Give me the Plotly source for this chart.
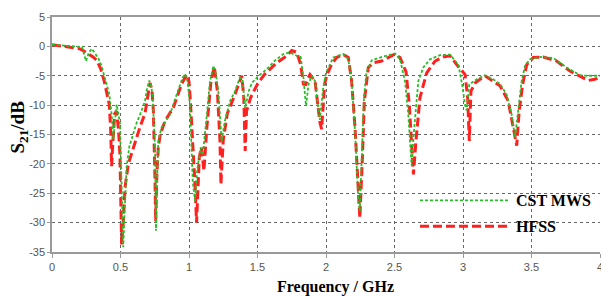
import plotly.graph_objects as go

# ---- data ----
cst_freq = [
    0, 0.1, 0.2, 0.22, 0.248, 0.27, 0.29, 0.315, 0.338, 0.36,
    0.387, 0.418, 0.435, 0.448, 0.46, 0.472, 0.496, 0.51, 0.52, 0.53,
    0.545, 0.565, 0.589, 0.618, 0.65, 0.679, 0.69, 0.71, 0.725, 0.735,
    0.752, 0.759, 0.768, 0.776, 0.8, 0.83, 0.861, 0.91, 0.954, 0.971,
    0.99, 1.007, 1.027, 1.044, 1.06, 1.085, 1.1, 1.129, 1.153, 1.178,
    1.195, 1.214, 1.238, 1.262, 1.3, 1.336, 1.372, 1.39, 1.41, 1.436,
    1.46, 1.508, 1.567, 1.628, 1.689, 1.737, 1.786, 1.815, 1.835, 1.854,
    1.873, 1.895, 1.92, 1.937, 1.955, 1.98, 2.0, 2.053, 2.126, 2.163,
    2.187, 2.212, 2.236, 2.247, 2.26, 2.277, 2.296, 2.333, 2.394, 2.467,
    2.504, 2.54, 2.577, 2.6, 2.613, 2.625, 2.64, 2.66, 2.674, 2.71,
    2.759, 2.832, 2.905, 2.966, 2.993, 3.015, 3.027, 3.046, 3.063, 3.1,
    3.16, 3.22, 3.27, 3.318, 3.355, 3.38, 3.404, 3.428, 3.453, 3.489,
    3.562, 3.66, 3.757, 3.854, 3.9, 3.95, 4.0,
]
cst_s21 = [
    0.3, 0.1, 0.0, -0.1, -2.5, -1.0, -0.4, -1.2, -2.0, -3.2,
    -5.3, -8.1, -11.5, -15.8, -12.5, -9.9, -13, -25, -34.2, -28,
    -20.5, -17, -15, -13, -11.2, -9.3, -7.6, -5.8, -6.8, -8.7,
    -17.2, -31.4, -22, -16.1, -13.8, -12.8, -11.6, -8.2, -5.3, -4.7,
    -6, -9.9, -22.9, -26.3, -21, -17.2, -18.5, -12, -6, -3.3,
    -4.5, -7.6, -16.1, -12.7, -9.3, -7.6, -5.3, -5.6, -10.5, -7.6,
    -6.2, -5, -3.9, -2.4, -1.3, -1.0, -1.6, -1.8, -5.3, -10.1,
    -6.4, -5, -5.9, -9.3, -12.5, -7, -4.5, -1.9, -1.3, -2.2,
    -5.9, -14.4, -26.3, -28, -19.9, -8.7, -4.3, -2.4, -1.9, -1.4,
    -1.2, -2.2, -5.9, -11.4, -17, -20.3, -15, -10, -5.9, -3.6,
    -2.2, -1.5, -1.4, -3.1, -6.4, -10, -10.9, -6.4, -6.2, -5.6,
    -4.9, -5.6, -6.4, -8.2, -11.6, -15.5, -10.5, -5.9, -3.3, -2.2,
    -1.8, -2.0, -3.6, -4.9, -5.0, -5.0, -5.0,
]

hfss_freq = [
    0, 0.1, 0.2, 0.23, 0.265, 0.3, 0.328, 0.355, 0.38, 0.4,
    0.418, 0.428, 0.435, 0.445, 0.457, 0.47, 0.485, 0.496, 0.508, 0.52,
    0.533, 0.557, 0.594, 0.64, 0.679, 0.7, 0.715, 0.73, 0.74, 0.752,
    0.757, 0.765, 0.776, 0.79, 0.825, 0.886, 0.946, 0.983, 1.0, 1.01,
    1.03, 1.045, 1.055, 1.065, 1.075, 1.09, 1.109, 1.13, 1.16, 1.185,
    1.207, 1.226, 1.233, 1.25, 1.28, 1.336, 1.37, 1.385, 1.4, 1.41,
    1.42, 1.45, 1.5, 1.55, 1.64, 1.713, 1.75, 1.786, 1.815, 1.835,
    1.852, 1.865, 1.883, 1.92, 1.937, 1.956, 1.968, 1.99, 2.005, 2.04,
    2.077, 2.126, 2.163, 2.187, 2.212, 2.236, 2.247, 2.265, 2.28, 2.309,
    2.345, 2.406, 2.467, 2.504, 2.54, 2.584, 2.608, 2.625, 2.638, 2.657,
    2.686, 2.735, 2.796, 2.856, 2.905, 2.954, 3.015, 3.034, 3.046, 3.058,
    3.09, 3.16, 3.22, 3.27, 3.33, 3.37, 3.392, 3.41, 3.436, 3.465,
    3.513, 3.586, 3.684, 3.78, 3.866, 3.915, 3.96, 4.0,
]
hfss_s21 = [
    0.3, 0.0, -0.4, -0.75, -1.3, -1.8, -2.4, -3.8, -5.8, -7.8,
    -9.9, -14, -20.4, -16, -11.5, -11, -14, -18.5, -33.7, -30,
    -24, -20, -17.2, -13.9, -11.4, -8.7, -6.2, -7.5, -11, -22.9,
    -29.8, -22, -17.2, -15, -12.7, -10.4, -6.4, -4.8, -6, -9.3,
    -17.2, -24, -30, -24, -18.9, -17.2, -21.2, -13.9, -6, -3.5,
    -7.6, -16, -23.5, -16, -11.4, -8.2, -6.2, -5, -8.7, -17.8,
    -11, -8.7, -6.4, -4.8, -2.8, -1.6, -0.7, -1.0, -3.1, -6.4,
    -6.5, -5.6, -4.8, -5.9, -9.3, -13, -14.1, -6.4, -5, -3.1,
    -1.9, -1.4, -1.9, -5.9, -13.9, -25.8, -29.2, -19.4, -9.3, -3.6,
    -2.8, -2.5, -1.8, -1.3, -1.9, -4.3, -9.9, -17, -21.8, -16,
    -8.7, -4.5, -2.5, -1.8, -1.6, -3.1, -4.8, -8.7, -16.1, -7.6,
    -6.2, -5, -5.9, -6.7, -9.3, -13.9, -16.9, -11, -6.4, -3.1,
    -1.9, -1.8, -2.5, -4.2, -5.3, -5.8, -5.6, -5.3,
]

x_ticks = [0, 0.5, 1, 1.5, 2, 2.5, 3, 3.5, 4]
x_tick_labels = ["0", "0.5", "1", "1.5", "2", "2.5", "3", "3.5", "4"]
y_ticks = [5, 0, -5, -10, -15, -20, -25, -30, -35]
y_tick_labels = ["5", "0", "-5", "-10", "-15", "-20", "-25", "-30", "-35"]

series_names = ["CST MWS", "HFSS"]
GREEN = "#28bd28"
RED = "#ff2020"
GREEN_LINE = dict(color=GREEN, width=1.8, dash="3px,2px")
RED_LINE = dict(color=RED, width=3, dash="9px,4px")

fig = go.Figure()
fig.add_trace(go.Scatter(x=hfss_freq, y=hfss_s21, mode="lines", name=series_names[1],
                         line=RED_LINE, showlegend=False))
fig.add_trace(go.Scatter(x=cst_freq, y=cst_s21, mode="lines", name=series_names[0],
                         line=GREEN_LINE, showlegend=False))

# legend drawn as sample lines + labels inside the plot area
leg_x0, leg_x1, leg_text_x = 2.686, 3.33, 3.37
leg_y = [-26.2, -30.6]
leg_styles = [GREEN_LINE, RED_LINE]
for name, yy, st in zip(series_names, leg_y, leg_styles):
    fig.add_shape(type="line", xref="x", yref="y", x0=leg_x0, x1=leg_x1, y0=yy, y1=yy, line=st)
    fig.add_annotation(x=leg_text_x, y=yy, xref="x", yref="y", text="<b>" + name + "</b>",
                       showarrow=False, xanchor="left", yanchor="middle",
                       font=dict(family="Liberation Serif", size=16, color="black"))

# axis titles
fig.add_annotation(x=0.518, y=-0.15, xref="paper", yref="paper", text="<b>Frequency / GHz</b>",
                   showarrow=False, xanchor="center", yanchor="middle",
                   font=dict(family="Liberation Serif", size=16, color="black"))
fig.add_annotation(x=-0.06, y=0.53, xref="paper", yref="paper", text="<b>S<sub>21</sub>/dB</b>",
                   showarrow=False, textangle=-90, xanchor="center", yanchor="middle",
                   font=dict(family="Liberation Serif", size=19, color="black"))

tick_font = dict(family="Liberation Sans", size=11, color="#555")
fig.update_layout(
    width=601, height=297,
    margin=dict(l=52, r=1, t=17, b=45, autoexpand=False),
    paper_bgcolor="white", plot_bgcolor="white",
    showlegend=False,
    xaxis=dict(range=[0, 4], tickvals=x_ticks, ticktext=x_tick_labels, tickfont=tick_font,
               showgrid=True, gridcolor="#666", griddash="dot", gridwidth=1,
               zeroline=False, showline=True, linecolor="#999", linewidth=2, mirror=True,
               ticks="outside", ticklen=4, tickcolor="#999", automargin=False,
               ticklabeloverflow="allow"),
    yaxis=dict(range=[-35, 5], tickvals=y_ticks, ticktext=y_tick_labels, tickfont=tick_font,
               showgrid=True, gridcolor="#666", griddash="dot", gridwidth=1,
               zeroline=False, showline=True, linecolor="#999", linewidth=1.5,
               ticks="outside", ticklen=3, tickcolor="#999", automargin=False),
)

fig.write_html("out.html", config={"displayModeBar": False},
               post_script="document.body.style.margin='0';")
